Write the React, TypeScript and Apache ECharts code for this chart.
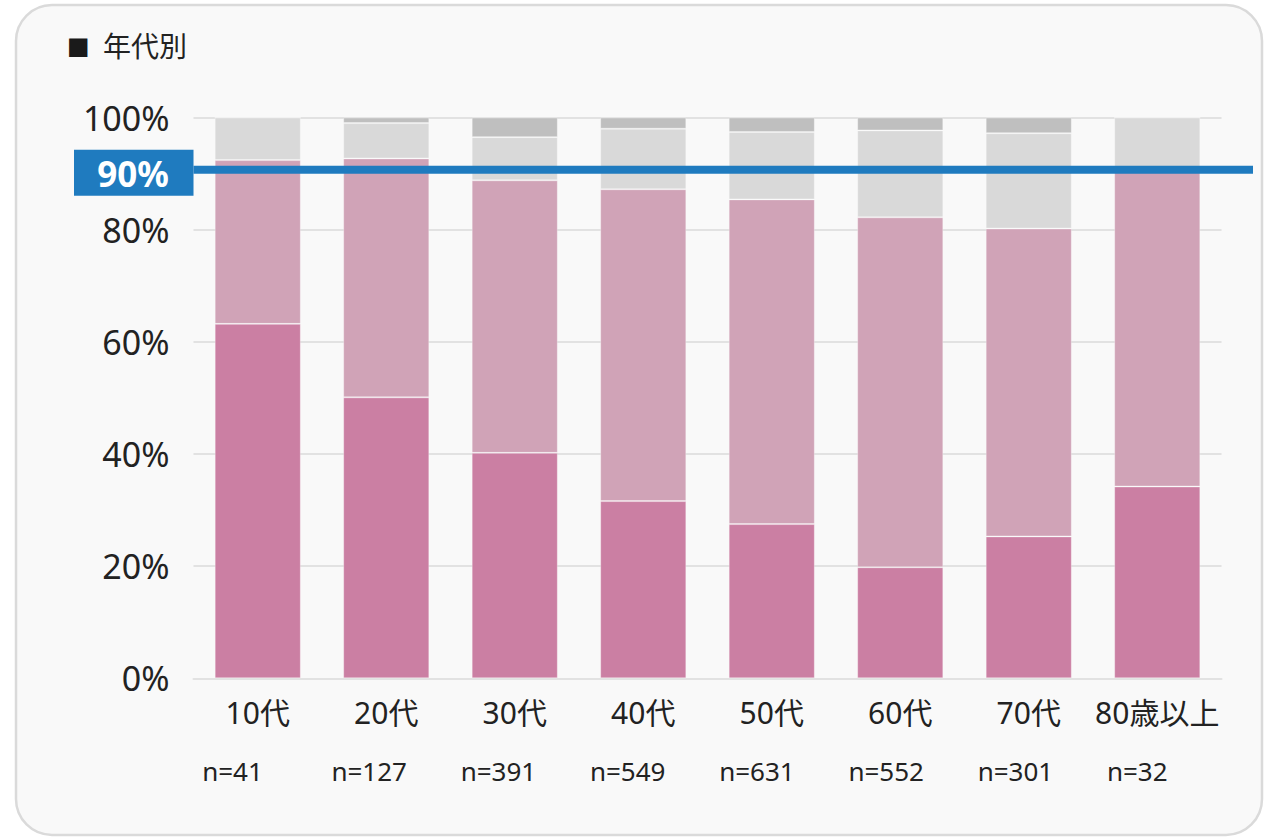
import React, { useEffect, useRef } from "react";
import * as echarts from "echarts";

const categories = ["10代", "20代", "30代", "40代", "50代", "60代", "70代", "80歳以上"];
const sampleSizes = ["n=41", "n=127", "n=391", "n=549", "n=631", "n=552", "n=301", "n=32"];
const yTicks = [0, 20, 40, 60, 80, 100];

const seriesNames = ["回答1", "回答2", "回答3", "回答4"];
const segment1 = [63.2, 50.1, 40.2, 31.6, 27.5, 19.8, 25.3, 34.2];
const segment2 = [29.2, 42.6, 48.6, 55.6, 57.9, 62.4, 54.9, 56.4];
const segment3 = [7.6, 6.3, 7.7, 10.8, 12.0, 15.5, 17.0, 9.4];
const segment4 = [0, 1.0, 3.5, 2.0, 2.6, 2.3, 2.8, 0];
const seriesColors = ["#CB7FA3", "#D0A3B7", "#D9D9D9", "#BFBFBF"];

const targetValue = 90.7;
const targetLabel = "90%";
const titleMark = "■";
const titleText = "年代別";

const FONT = "'Noto Sans', 'Noto Sans CJK JP', sans-serif";

export default function App() {
  const ref = useRef<HTMLDivElement>(null);
  useEffect(() => {
    if (!ref.current) return;
    const chart = echarts.init(ref.current, undefined, { renderer: "svg" });
    const GRID_LEFT = 193.5;
    const GRID_RIGHT = 44.5;
    const data = [segment1, segment2, segment3, segment4];
    chart.setOption({
      animation: false,
      backgroundColor: "#ffffff",
      textStyle: { fontFamily: FONT },
      grid: [
        { left: GRID_LEFT, right: GRID_RIGHT, top: 117.5, bottom: 158.7 },
        { left: 137.5, right: 94.5, top: 117.5, bottom: 158.7 },
      ],
      xAxis: [
        {
          type: "category",
          gridIndex: 0,
          data: categories,
          axisTick: { show: false },
          axisLine: { lineStyle: { color: "#e2e2e2", width: 2 } },
          axisLabel: { color: "#222", fontSize: 30, margin: 19, fontFamily: FONT, interval: 0 },
        },
        {
          type: "category",
          gridIndex: 1,
          data: sampleSizes,
          axisTick: { show: false },
          axisLine: { show: false },
          axisLabel: { color: "#222", fontSize: 26, margin: 80, align: "left", fontFamily: FONT, interval: 0 },
        },
      ],
      yAxis: [
        {
          type: "value",
          gridIndex: 0,
          min: 0,
          max: 100,
          interval: 20,
          axisLabel: {
            color: "#222",
            fontSize: 34,
            margin: 24,
            fontFamily: FONT,
            formatter: (v: number) => (yTicks.includes(v) ? v + "%" : ""),
          },
          axisLine: { show: false },
          axisTick: { show: false },
          splitLine: { lineStyle: { color: "#e2e2e2", width: 2 } },
        },
        {
          type: "value",
          gridIndex: 1,
          min: 0,
          max: 100,
          show: false,
        },
      ],
      series: data.map((d, i) => ({
        name: seriesNames[i],
        type: "bar",
        stack: "total",
        xAxisIndex: 0,
        yAxisIndex: 0,
        data: d,
        barWidth: "67%",
        itemStyle: { color: seriesColors[i], borderColor: "rgba(255,255,255,0.3)", borderWidth: 1 },
      })),
    });

    const y = chart.convertToPixel({ yAxisIndex: 0 }, targetValue) as number;
    chart.setOption({
      graphic: [
        {
          type: "rect",
          z: -100,
          silent: true,
          shape: { x: 16, y: 5, width: 1246, height: 830, r: 36 },
          style: { fill: "#f9f9f9", stroke: "#dadada", lineWidth: 2.5 },
        },
        {
          type: "text",
          x: 67,
          y: 46,
          style: { text: titleMark, fontSize: 24, fill: "#1a1a1a", fontFamily: "'DejaVu Sans', sans-serif", verticalAlign: "middle" },
        },
        {
          type: "text",
          x: 103,
          y: 46,
          style: { text: titleText, fontSize: 28, fill: "#222", fontFamily: FONT, verticalAlign: "middle" },
        },
        {
          type: "line",
          z: 100,
          shape: { x1: GRID_LEFT, y1: y, x2: 1253, y2: y },
          style: { stroke: "#1F7BBF", lineWidth: 8 },
        },
        {
          type: "rect",
          z: 100,
          shape: { x: 74, y: y - 20, width: GRID_LEFT - 74, height: 46 },
          style: { fill: "#1F7BBF" },
        },
        {
          type: "text",
          z: 101,
          x: 133,
          y: y + 4,
          style: {
            text: targetLabel,
            fontSize: 35,
            fontWeight: "bold",
            fill: "#ffffff",
            fontFamily: FONT,
            align: "center",
            verticalAlign: "middle",
          },
        },
      ],
    });
    return () => chart.dispose();
  }, []);
  return <div ref={ref} style={{ position: "fixed", left: 0, top: 0, width: 1266, height: 837 }} />;
}
